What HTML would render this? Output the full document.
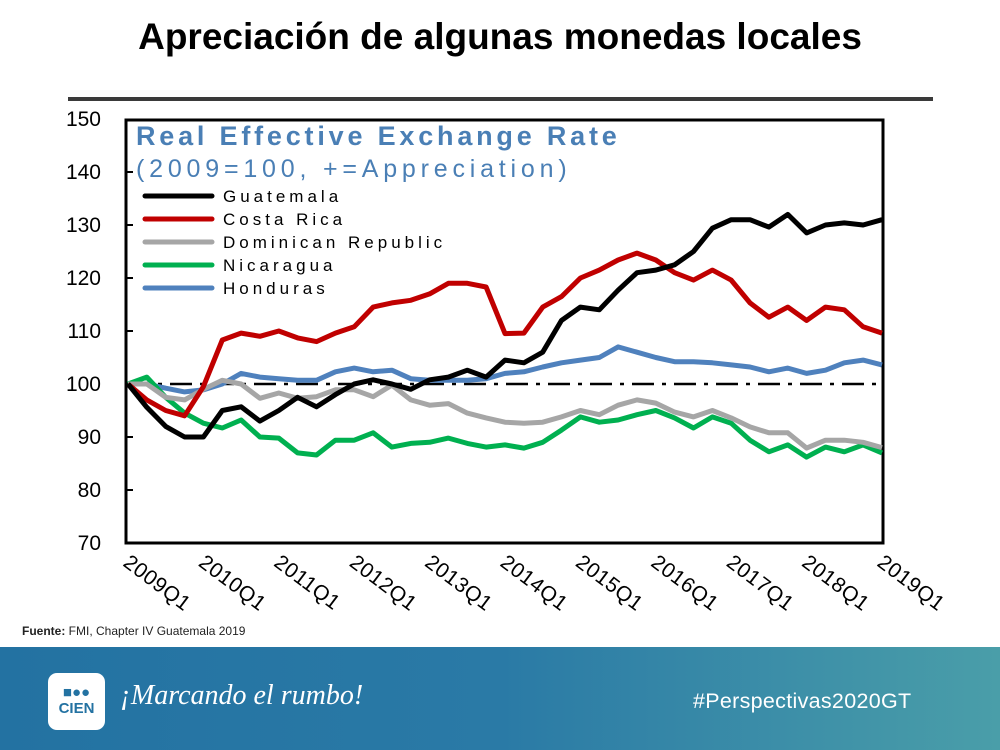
<!DOCTYPE html>
<html><head><meta charset="utf-8"><style>
body{margin:0;width:1000px;height:750px;overflow:hidden;background:#fff;font-family:"Liberation Sans",sans-serif;position:relative}
</style></head><body>
<div style="position:absolute;left:0;width:1000px;top:16px;text-align:center;font-size:37px;font-weight:bold;color:#000">Apreciación de algunas monedas locales</div>
<div style="position:absolute;left:68px;width:865px;top:97px;height:4px;background:#3a3a3a"></div>
<svg id="chart" width="1000" height="640" style="position:absolute;left:0;top:0"></svg>
<div style="position:absolute;left:22px;top:624px;font-size:12px;color:#222"><b>Fuente:</b> FMI, Chapter IV Guatemala 2019</div>
<div style="position:absolute;left:0;top:647px;width:1000px;height:103px;background:linear-gradient(90deg,#2372a2,#2a7aa6 50%,#4a9ea9)"></div>
<div style="position:absolute;left:48px;top:673px;width:57px;height:57px;background:#fff;border-radius:9px;color:#2372a2;font-weight:bold;font-size:15px;text-align:center;line-height:16px;padding-top:12px;box-sizing:border-box">■●●<br>CIEN</div>
<div style="position:absolute;left:120px;top:680px;font-family:'Liberation Serif',serif;font-style:italic;font-size:28px;color:#fff">¡Marcando el rumbo!</div>
<div style="position:absolute;left:693px;top:689px;font-size:21.5px;color:#fff;letter-spacing:0.3px">#Perspectivas2020GT</div>
<script>
const years=["2009Q1","2010Q1","2011Q1","2012Q1","2013Q1","2014Q1","2015Q1","2016Q1","2017Q1","2018Q1","2019Q1"];
const yTicks=[70,80,90,100,110,120,130,140,150];
const guatemala=[100,95.6,92,90,90,95,95.7,93,95,97.5,95.7,98,100,100.8,100,99,100.8,101.3,102.6,101.3,104.5,104,106,112,114.5,114,117.7,121,121.5,122.5,125,129.4,131,131,129.6,132,128.5,130,130.4,130,131];
const costaRica=[100,97,95,94,99.5,108.3,109.6,109,110,108.7,108,109.6,110.8,114.5,115.3,115.8,117,119,119,118.3,109.5,109.6,114.5,116.5,120,121.5,123.4,124.7,123.4,121,119.6,121.5,119.6,115.3,112.6,114.5,112,114.5,114,110.8,109.6];
const dominican=[100,100,97.5,97,99,100.7,100,97.3,98.3,97.3,97.6,98.9,98.9,97.6,99.8,97,96,96.3,94.5,93.6,92.8,92.6,92.8,93.8,95,94.2,96,97,96.4,94.7,93.8,95,93.6,91.9,90.8,90.8,87.9,89.4,89.4,89,88];
const nicaragua=[100,101.3,97.5,94.5,92.6,91.7,93.2,90,89.8,87,86.6,89.4,89.4,90.8,88.1,88.8,89,89.8,88.8,88.1,88.5,87.9,89,91.3,93.8,92.8,93.2,94.2,95,93.6,91.7,93.8,92.6,89.4,87.2,88.5,86.2,88.1,87.2,88.5,87];
const honduras=[100,100,99.2,98.5,98.9,100,102,101.3,101,100.7,100.7,102.3,103,102.3,102.6,101,100.7,100.7,100.7,101,102,102.3,103.2,104,104.5,105,107,106,105,104.2,104.2,104,103.6,103.2,102.3,103,102,102.6,104,104.5,103.6];
const seriesNames=["Guatemala","Costa Rica","Dominican Republic","Nicaragua","Honduras"];
const seriesColors=["#000000","#c00000","#a6a6a6","#00b050","#4f81bd"];
const seriesData=[guatemala,costaRica,dominican,nicaragua,honduras];
const NS="http://www.w3.org/2000/svg";
const svg=document.getElementById('chart');
const X0=128,X1=882,Y0=543,Y1=119;
const xq=i=>X0+(X1-X0)*i/40;
const yv=v=>Y0+(v-70)*(Y1-Y0)/80;
function mk(t,a,p){const e=document.createElementNS(NS,t);for(const k in a)e.setAttribute(k,a[k]);(p||svg).appendChild(e);return e;}
let e;
e=mk('rect',{x:126,y:120,width:757,height:423,fill:'#fff',stroke:'#000','stroke-width':3});


yTicks.forEach(t=>{
 e=mk('text',{x:101,y:yv(t)+7,'text-anchor':'end','font-size':21,fill:'#000','font-family':'Liberation Sans'});e.textContent=t;
 
 
 if(t>70&&t<150){e=mk('line',{x1:126,x2:133,y1:yv(t),y2:yv(t),stroke:'#000','stroke-width':2});
 
 }
});
years.forEach((y,i)=>{
 const x=xq(i*4);
 e=mk('text',{x:0,y:0,'font-size':21,fill:'#000','font-family':'Liberation Sans','letter-spacing':0.5,transform:`translate(${x-6},${Y0+22}) rotate(37)`});e.textContent=y;
 
 
});
e=mk('line',{x1:128,x2:882,y1:yv(100),y2:yv(100),stroke:'#000','stroke-width':2.5,'stroke-dasharray':'22 8 4 8'});


for(let s=seriesData.length-1;s>=0;s--){
 const d=seriesData[s].map((v,i)=>(i?'L':'M')+xq(i).toFixed(1)+','+yv(v).toFixed(1)).join('');
 e=mk('path',{d:d,fill:'none',stroke:seriesColors[s],'stroke-width':5,'stroke-linejoin':'round'});
 
 
}
e=mk('text',{x:136,y:145,'font-size':27,'font-weight':'bold',fill:'#4a7fb5','letter-spacing':3.8,'font-family':'Liberation Sans'});e.textContent='Real Effective Exchange Rate';


e=mk('text',{x:136,y:177,'font-size':25,fill:'#4a7fb5','letter-spacing':4.8,'font-family':'Liberation Sans'});e.textContent='(2009=100,  +=Appreciation)';


seriesNames.forEach((n,i)=>{
 const y=196+i*23;
 e=mk('line',{x1:145,x2:212,y1:y,y2:y,stroke:seriesColors[i],'stroke-width':5,'stroke-linecap':'round'});
 
 
 e=mk('text',{x:223,y:y+6,'font-size':17,fill:'#000','letter-spacing':4.0,'font-family':'Liberation Sans'});e.textContent=n;
 
 
});
</script>
</body></html>
